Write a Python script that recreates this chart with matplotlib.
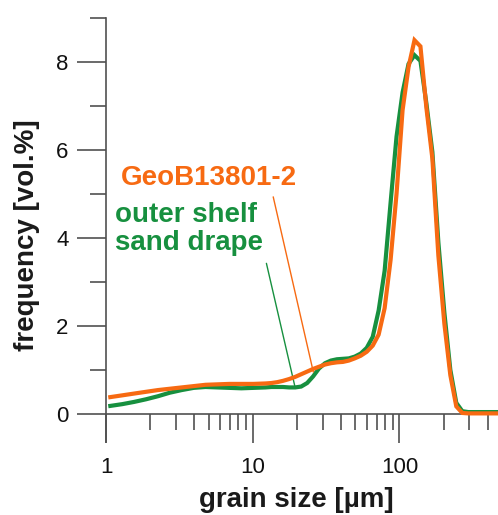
import matplotlib
matplotlib.use("Agg")
import matplotlib.pyplot as plt
from matplotlib.ticker import FixedLocator, NullFormatter, LogLocator

plt.rcParams['font.family'] = ['Liberation Sans', 'DejaVu Sans']

# grain-size classes [µm]
grain_size = [1.07, 1.29, 1.55, 1.87, 2.26, 2.72, 3.28, 3.96, 4.77, 5.75, 6.94,
              8.37, 10.1, 12.2, 13.4, 14.7, 16.1, 17.7, 19.5, 21.4, 23.5, 25.8,
              28.3, 31.1, 34.1, 37.5, 41.2, 45.2, 49.6, 54.5, 59.9, 65.8, 72.2,
              79.3, 87.1, 95.6, 105.1, 115.4, 126.7, 139.1, 152.8, 167.8, 184.3,
              202.5, 222.4, 244.2, 268.3, 294.7, 323.6, 355.4, 390.3, 428.6, 470.0]

# GeoB13801-2 [vol.%]
geob = [0.38, 0.42, 0.46, 0.50, 0.54, 0.57, 0.60, 0.63, 0.66, 0.67, 0.68,
        0.68, 0.68, 0.69, 0.70, 0.72, 0.75, 0.79, 0.84, 0.90, 0.96, 1.02,
        1.07, 1.12, 1.15, 1.17, 1.18, 1.21, 1.26, 1.32, 1.41, 1.55, 1.80,
        2.40, 3.50, 5.00, 6.90, 7.88, 8.49, 8.35, 6.95, 5.80, 3.60,
        2.05, 0.88, 0.17, 0.02, 0.01, 0.01, 0.01, 0.01, 0.01, 0.01]

# outer shelf sand drape [vol.%]
shelf = [0.18, 0.22, 0.27, 0.33, 0.40, 0.48, 0.54, 0.59, 0.61, 0.60, 0.59,
         0.58, 0.59, 0.60, 0.61, 0.61, 0.61, 0.60, 0.60, 0.62, 0.70, 0.85,
         1.03, 1.15, 1.21, 1.24, 1.25, 1.26, 1.30, 1.37, 1.50, 1.75, 2.35,
         3.25, 4.80, 6.30, 7.30, 7.95, 8.15, 8.02, 7.05, 5.95, 3.90,
         2.30, 1.00, 0.25, 0.06, 0.04, 0.04, 0.04, 0.04, 0.04, 0.04]

x_major = [1, 10, 100]
x_major_labels = ['1', '10', '100']
y_major = [0, 2, 4, 6, 8]
y_minor = [1, 3, 5, 7, 9]

ORANGE = '#F76A12'
GREEN = '#17903F'
AXIS = '#505050'

W, H = 498, 515
fig = plt.figure(figsize=(W / 100, H / 100), dpi=100)
left, right, top, bottom = 106, 498, 16, 442
ax = fig.add_axes([left / W, 1 - bottom / H, (right - left) / W, (bottom - top) / H])

ax.plot(grain_size, shelf, color=GREEN, lw=3.0, solid_joinstyle='miter', zorder=3)
ax.plot(grain_size, geob, color=ORANGE, lw=3.0, solid_joinstyle='miter', zorder=4)

ax.set_xscale('log')
ax.set_xlim(1, 470)
ax.set_ylim(-0.64, 9.04)

for s in ('top', 'right'):
    ax.spines[s].set_visible(False)
ax.spines['bottom'].set_position(('data', 0))
ax.spines['bottom'].set_color(AXIS)
ax.spines['bottom'].set_linewidth(1.2)
ax.spines['left'].set_color(AXIS)
ax.spines['left'].set_linewidth(1.2)
ax.spines['left'].set_bounds(-0.64, 9.0)

ax.xaxis.set_major_locator(FixedLocator(x_major))
ax.set_xticklabels(x_major_labels)
ax.xaxis.set_minor_locator(LogLocator(base=10, subs=range(2, 10)))
ax.xaxis.set_minor_formatter(NullFormatter())
ax.yaxis.set_major_locator(FixedLocator(y_major))
ax.yaxis.set_minor_locator(FixedLocator(y_minor))

ax.tick_params(axis='both', which='major', direction='out', length=21, width=1.2,
               color=AXIS, labelsize=16, labelcolor='#111111')
ax.tick_params(axis='both', which='minor', direction='out', length=11.5, width=1.2,
               color=AXIS)
ax.tick_params(axis='x', which='major', pad=10)
ax.tick_params(axis='y', which='major', pad=6)

# x labels sit below the lower end of the left spine
for lbl in ax.get_xticklabels():
    lbl.set_y(-0.0)
ax.xaxis.set_tick_params(labelbottom=True)

def px(x, y):
    return x / W, 1 - y / H

fig.text(*px(296, 500), 'grain size [µm]', ha='center', va='center',
         fontsize=20, fontweight='bold', color='#1a1a1a')
fig.text(*px(27, 235), 'frequency [vol.%]', ha='center', va='center',
         rotation=90, fontsize=20, fontweight='bold', color='#1a1a1a')

ax.text(1.26, 5.19, 'GeoB13801-2', color=ORANGE, fontsize=20, fontweight='bold',
        ha='left', va='baseline')
ax.text(1.15, 4.36, 'outer shelf', color=GREEN, fontsize=20, fontweight='bold',
        ha='left', va='baseline')
ax.text(1.15, 3.72, 'sand drape', color=GREEN, fontsize=20, fontweight='bold',
        ha='left', va='baseline')

ax.annotate('', xy=(25.9, 0.95), xytext=(13.8, 4.93),
            arrowprops=dict(arrowstyle='-', color=ORANGE, lw=1.0,
                            shrinkA=0, shrinkB=0))
ax.annotate('', xy=(19.4, 0.62), xytext=(12.4, 3.42),
            arrowprops=dict(arrowstyle='-', color=GREEN, lw=1.0,
                            shrinkA=0, shrinkB=0))

fig.savefig('out.png', dpi=100)
